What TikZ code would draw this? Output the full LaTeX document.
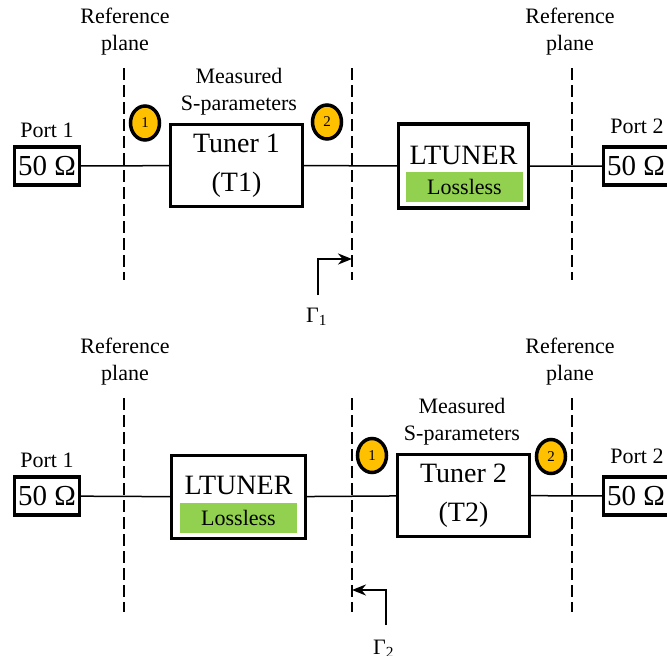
\documentclass[tikz,border=0pt]{standalone}
\usepackage{fontspec}
\setmainfont{Liberation Serif}
\usetikzlibrary{arrows.meta,shapes.geometric}
\definecolor{portorange}{HTML}{FFC000}
\definecolor{lossgreen}{HTML}{92D050}
\begin{document}
\begin{tikzpicture}[x=1pt,y=-1pt,line join=miter,
	box/.style={draw,line width=3.2pt,inner sep=0pt,align=center},
	portbox/.style={box,minimum width=65pt,minimum height=38pt,font=\fontsize{29}{29}\selectfont},
	tunerbox/.style={box,minimum width=132pt,minimum height=82pt,font=\fontsize{28}{39}\selectfont},
	lossbox/.style={fill=lossgreen,minimum width=117pt,minimum height=30pt,inner sep=0pt,font=\fontsize{22}{22}\selectfont},
	portnum/.style={ellipse,draw,line width=3.5pt,fill=portorange,minimum width=29pt,minimum height=34pt,inner sep=0pt,font=\fontsize{15}{15}\selectfont},
	lbl/.style={align=center,inner sep=0pt,font=\fontsize{22}{27}\selectfont},
	refplane/.style={dash pattern=on 12pt off 5pt,line width=2.8pt},
	wire/.style={line width=1.5pt},
	gam/.style={line width=2.2pt,-{Stealth[length=14pt,width=11pt]}}]
	\useasboundingbox (0,0) rectangle (667,656);
	\clip (0,0) rectangle (667,656);
	% reference planes
	\foreach \x in {124,352,572}{
		\draw[refplane] (\x,68) -- (\x,280);
		\draw[refplane] (\x,398) -- (\x,612);}
	\node[lbl] (refA) at (125,32) {Reference\\plane};
	\node[lbl] (refB) at (570,32) {Reference\\plane};
	\node[lbl] (refC) at (125,362) {Reference\\plane};
	\node[lbl] (refD) at (570,362) {Reference\\plane};
	% upper chain
	\node[portbox] (p1) at (47,166) {50 Ω};
	\node[tunerbox] (t1) at (236.5,165.5) {Tuner 1\\(T1)};
	\node[box,minimum width=130pt,minimum height=84pt] (lt1) at (463.5,166) {};
	\node[portbox] (p2) at (636,166) {50 Ω};
	\node[lbl,font=\fontsize{28}{28}\selectfont] (lt1txt) at (463.5,155) {LTUNER};
	\node[lossbox] (lt1g) at (464.5,187) {Lossless};
	\draw[wire] (p1) -- (t1) (t1) -- (lt1) (lt1) -- (p2);
	\node[lbl] (p1l) at (47,130) {Port 1};
	\node[lbl] (p2l) at (637,126) {Port 2};
	\node[lbl] (meas1) at (239,92) {Measured\\S-parameters};
	\node[portnum] (n1) at (145,123) {1};
	\node[portnum] (n2) at (327,122) {2};
	\coordinate (g1s) at (318,295);
	\coordinate (g1e) at (352,259);
	\draw[gam] (g1s) |- (g1e);
	\node[lbl,anchor=base west] (gam1) at (306,322) {Γ\textsubscript{1}};
	% lower chain
	\node[portbox] (p3) at (47,496) {50 Ω};
	\node[box,minimum width=134pt,minimum height=83pt] (lt2) at (238.5,497) {};
	\node[tunerbox] (t2) at (463.5,495.5) {Tuner 2\\(T2)};
	\node[portbox] (p4) at (636,496) {50 Ω};
	\node[lbl,font=\fontsize{28}{28}\selectfont] (lt2txt) at (238.5,485) {LTUNER};
	\node[lossbox] (lt2g) at (238.5,518) {Lossless};
	\draw[wire] (p3) -- (lt2) (lt2) -- (t2) (t2) -- (p4);
	\node[lbl] (p3l) at (47,460) {Port 1};
	\node[lbl] (p4l) at (637,456) {Port 2};
	\node[lbl] (meas2) at (462,422) {Measured\\S-parameters};
	\node[portnum] (n3) at (372,455.5) {1};
	\node[portnum] (n4) at (551,456.5) {2};
	\coordinate (g2s) at (386,625);
	\coordinate (g2e) at (352,590);
	\draw[gam] (g2s) |- (g2e);
	\node[lbl,anchor=base west] (gam2) at (373,654) {Γ\textsubscript{2}};
\end{tikzpicture}
\end{document}
